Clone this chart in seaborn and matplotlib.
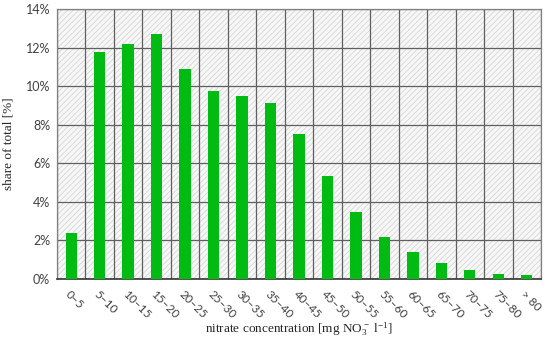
import numpy as np
import pandas as pd
import matplotlib
matplotlib.use("Agg")
import matplotlib.pyplot as plt
from matplotlib.patches import Rectangle
from matplotlib.ticker import FuncFormatter, MultipleLocator
import seaborn as sns

# data
categories = ["0\u20135", "5\u201310", "10\u201315", "15\u201320", "20\u201325", "25\u201330",
              "30\u201335", "35\u201340", "40\u201345", "45\u201350", "50\u201355", "55\u201360",
              "60\u201365", "65\u201370", "70\u201375", "75\u201380", "> 80"]
share = [2.4, 11.75, 12.2, 12.7, 10.9, 9.75, 9.5, 9.1, 7.5, 5.35, 3.45, 2.2, 1.4, 0.85, 0.45, 0.25, 0.2]

df = pd.DataFrame({"conc": categories, "share": share})

sns.set_style("white")
plt.rcParams["mathtext.default"] = "regular"
plt.rcParams["hatch.linewidth"] = 0.6

fig = plt.figure(figsize=(5.5, 3.38), dpi=100)
ax = fig.add_axes([0.1036, 0.1746, 0.88, 0.7988])

# hatched background
ax.patch.set_visible(False)
bg = Rectangle((0, 0), 1, 1, transform=ax.transAxes, facecolor="#f7f7f7",
               edgecolor="#d6d6d6", hatch="//////", linewidth=0, zorder=0)
ax.add_patch(bg)

sns.barplot(data=df, x="conc", y="share", color="#00bb11", saturation=1,
            width=0.4, linewidth=0, ax=ax, zorder=3)

ax.set_ylim(0, 14)
ax.set_xlim(-0.5, len(categories) - 0.5)
ax.yaxis.set_major_locator(MultipleLocator(2))
ax.yaxis.set_major_formatter(FuncFormatter(lambda v, p: f"{v:.0f}%"))

# grid at category boundaries
ax.set_xticks(np.arange(-0.5, len(categories), 1), minor=True)
ax.grid(True, which="minor", axis="x", color="#606060", linewidth=0.9, zorder=1)
ax.grid(True, which="major", axis="y", color="#606060", linewidth=0.9, zorder=1)
ax.set_axisbelow(True)
ax.tick_params(axis="x", which="major", length=0, pad=7)
ax.tick_params(axis="x", which="minor", length=4, width=0.9, color="#333333", direction="out")
ax.tick_params(axis="y", length=0, pad=5)

ax.set_xticks(range(len(categories)))
ax.set_xticklabels(categories, rotation=-45, ha="left", rotation_mode="anchor",
                   fontsize=8.5, family="Lato", color="#404040")
for lab in ax.get_yticklabels():
    lab.set_family("Lato")
    lab.set_fontsize(9)
    lab.set_color("#404040")

for s in ["top", "right", "left"]:
    ax.spines[s].set_visible(True)
    ax.spines[s].set_color("#808080")
    ax.spines[s].set_linewidth(0.9)
ax.spines["bottom"].set_color("#333333")
ax.spines["bottom"].set_linewidth(1.2)

ax.set_xlabel(r"nitrate concentration [mg NO$_3^-$ l$^{-1}$]", family="Liberation Serif",
              fontsize=9.5, labelpad=0)
ax.set_ylabel("share of total [%]", family="Liberation Serif", fontsize=9.5, labelpad=8)

fig.savefig("out.png", dpi=100)
